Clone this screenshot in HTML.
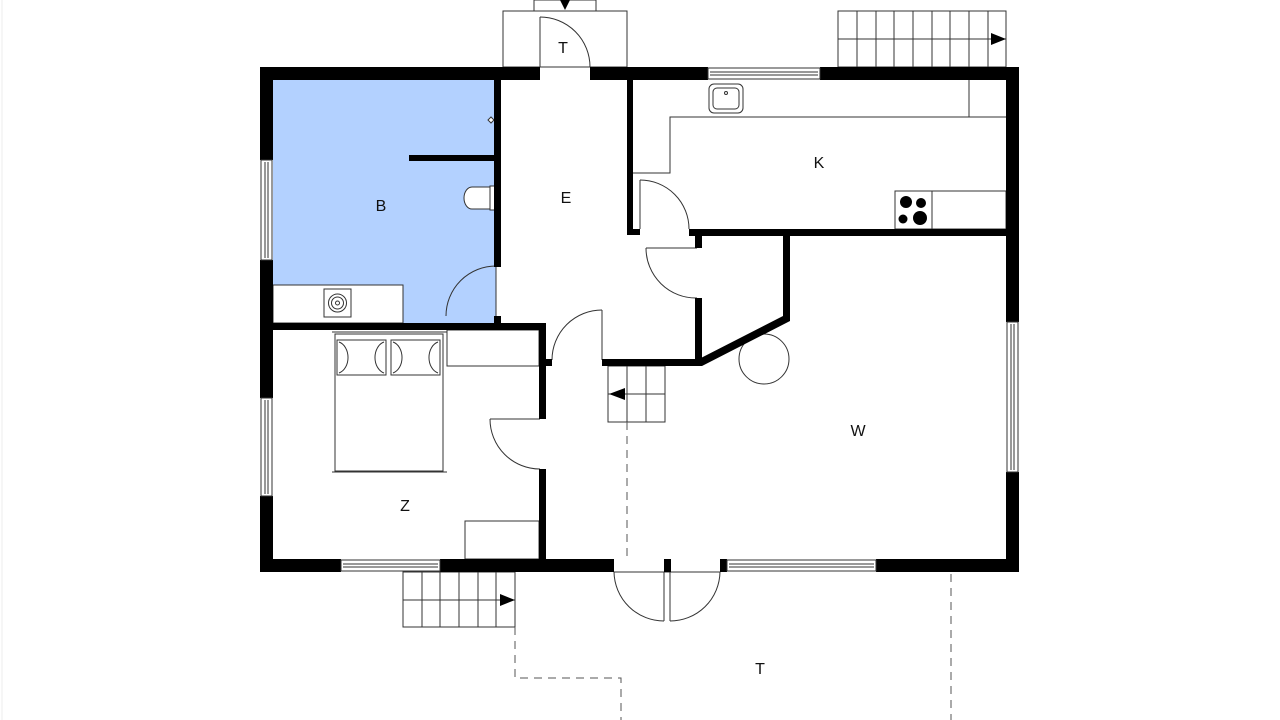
<!DOCTYPE html>
<html><head><meta charset="utf-8"><style>
html,body{margin:0;padding:0;background:#fff;}
svg{display:block;}
text{font-family:"Liberation Sans",sans-serif;font-size:16px;fill:#111;text-anchor:middle;}
</style></head><body>
<svg width="1280" height="720" viewBox="0 0 1280 720" xmlns="http://www.w3.org/2000/svg">
<rect width="1280" height="720" fill="#fff"/>
<line x1="2" y1="0" x2="2" y2="720" stroke="#eee" stroke-width="1"/>
<rect x="273" y="80" width="223" height="243" fill="#b3d1ff"/>
<g fill="none" stroke="#333" stroke-width="1">
<rect x="273" y="285" width="130" height="38" fill="#fff"/>
<rect x="324" y="289" width="27" height="28"/>
<circle cx="337.5" cy="303" r="9"/><circle cx="337.5" cy="303" r="6"/><circle cx="337.5" cy="303" r="2"/>
<path d="M490 187 L472 187 A8 11 0 0 0 472 209 L490 209 Z" fill="#fff"/>
<rect x="490" y="186" width="6" height="24" fill="#fff"/>
<path d="M491 117 l3 3 l-3 3 l-3 -3 z" fill="#fff"/>
<rect x="503" y="11" width="124" height="56"/>
<rect x="534" y="0" width="62" height="11"/>
<line x1="540" y1="17" x2="540" y2="67"/>
<path d="M540 17 A50 50 0 0 1 590 67"/>
<rect x="838" y="11" width="168" height="56"/>
<line x1="838" y1="39" x2="1006" y2="39"/>
<line x1="857" y1="11" x2="857" y2="67"/><line x1="876" y1="11" x2="876" y2="67"/><line x1="894" y1="11" x2="894" y2="67"/><line x1="913" y1="11" x2="913" y2="67"/><line x1="932" y1="11" x2="932" y2="67"/><line x1="950" y1="11" x2="950" y2="67"/><line x1="969" y1="11" x2="969" y2="67"/><line x1="988" y1="11" x2="988" y2="67"/>
<polyline points="633,173 670,173 670,117 1006,117"/>
<line x1="969" y1="80" x2="969" y2="117"/>
<rect x="709" y="84" width="34" height="29" rx="5"/>
<rect x="713" y="88" width="26" height="21" rx="4"/>
<circle cx="726" cy="93" r="1.5"/>
<rect x="895" y="191" width="111" height="38" fill="#fff"/>
<line x1="932" y1="191" x2="932" y2="229"/>
<line x1="640" y1="180" x2="640" y2="229"/><path d="M640 180 A49 49 0 0 1 689 229"/>
<line x1="646" y1="248" x2="697" y2="248"/><path d="M646 248 A50 50 0 0 0 697 298"/>
<line x1="496" y1="266" x2="496" y2="316"/><path d="M446 316 A50 50 0 0 1 496 266"/>
<line x1="602" y1="310" x2="602" y2="360"/><path d="M552 360 A50 50 0 0 1 602 310"/>
<line x1="490" y1="419" x2="540" y2="419"/><path d="M490 419 A50 50 0 0 0 540 469"/>
<line x1="614" y1="572" x2="720" y2="572"/>
<line x1="664" y1="572" x2="664" y2="621"/><path d="M614 572 A50 50 0 0 0 664 621"/>
<line x1="670" y1="572" x2="670" y2="621"/><path d="M720 572 A50 50 0 0 1 670 621"/>
<line x1="332" y1="332" x2="447" y2="332"/>
<rect x="335" y="334" width="108" height="137"/>
<line x1="332" y1="472" x2="447" y2="472"/>
<rect x="337" y="340" width="49" height="35"/><rect x="391" y="340" width="49" height="35"/>
<path d="M339 342 A12 16 0 0 1 339 373 M384 342 A12 16 0 0 0 384 373 M393 342 A12 16 0 0 1 393 373 M438 342 A12 16 0 0 0 438 373"/>
<rect x="447" y="330" width="92" height="36"/>
<rect x="465" y="521" width="74" height="38"/>
<rect x="608" y="366" width="57" height="56"/>
<line x1="608" y1="394" x2="665" y2="394"/>
<line x1="627" y1="366" x2="627" y2="422"/><line x1="646" y1="366" x2="646" y2="422"/>
<circle cx="764" cy="359" r="25"/>
<rect x="403" y="572" width="112" height="55"/>
<line x1="403" y1="600" x2="515" y2="600"/>
<line x1="422" y1="572" x2="422" y2="627"/><line x1="440" y1="572" x2="440" y2="627"/><line x1="459" y1="572" x2="459" y2="627"/><line x1="478" y1="572" x2="478" y2="627"/><line x1="496" y1="572" x2="496" y2="627"/>
</g>
<g fill="none" stroke="#555" stroke-width="1" stroke-dasharray="8,6">
<polyline points="515,627 515,678 621,678 621,720"/>
<line x1="627" y1="422" x2="627" y2="556"/>
<line x1="951" y1="574" x2="951" y2="720"/>
</g>
<g fill="#000">
<circle cx="906" cy="202" r="6"/><circle cx="921" cy="203" r="5"/><circle cx="903" cy="219" r="4.5"/><circle cx="920" cy="218" r="7"/>
<polygon points="560,0 570,0 565,10"/>
<polygon points="991,33 1006,39 991,45"/>
<polygon points="625,388 609,394 625,400"/>
<polygon points="500,594 515,600 500,606"/>
<rect x="260" y="67" width="280" height="13"/>
<rect x="590" y="67" width="118" height="13"/>
<rect x="820" y="67" width="199" height="13"/>
<rect x="260" y="67" width="13" height="93"/>
<rect x="260" y="260" width="13" height="138"/>
<rect x="260" y="496" width="13" height="76"/>
<rect x="1006" y="67" width="13" height="255"/>
<rect x="1006" y="472" width="13" height="100"/>
<rect x="260" y="559" width="81" height="13"/>
<rect x="440" y="559" width="174" height="13"/>
<rect x="664" y="559" width="7" height="13"/>
<rect x="720" y="559" width="7" height="13"/>
<rect x="876" y="559" width="143" height="13"/>
<rect x="494" y="80" width="7" height="187"/>
<rect x="409" y="155" width="87" height="6"/>
<rect x="494" y="316" width="7" height="7"/>
<rect x="260" y="323" width="286" height="7"/>
<rect x="539" y="323" width="7" height="96"/>
<rect x="539" y="359" width="13" height="7"/>
<rect x="539" y="469" width="7" height="90"/>
<rect x="602" y="359" width="98" height="7"/>
<polygon points="783,236 790,236 790,321 702,366 697,360 783,316"/>
<rect x="695" y="298" width="7" height="68"/>
<rect x="695" y="236" width="7" height="12"/>
<rect x="627" y="80" width="6" height="155"/>
<rect x="627" y="229" width="13" height="6"/>
<rect x="689" y="229" width="317" height="7"/>
</g>
<g fill="#fff" stroke="#333" stroke-width="1">
<rect x="708" y="68" width="112" height="11"/><line x1="710" y1="72" x2="818" y2="72"/><line x1="710" y1="75" x2="818" y2="75"/>
<rect x="261" y="160" width="11" height="100"/><line x1="265" y1="162" x2="265" y2="258"/><line x1="268" y1="162" x2="268" y2="258"/>
<rect x="261" y="398" width="11" height="98"/><line x1="265" y1="400" x2="265" y2="494"/><line x1="268" y1="400" x2="268" y2="494"/>
<rect x="1007" y="322" width="11" height="150"/><line x1="1011" y1="324" x2="1011" y2="470"/><line x1="1014" y1="324" x2="1014" y2="470"/>
<rect x="341" y="560" width="99" height="11"/><line x1="343" y1="564" x2="438" y2="564"/><line x1="343" y1="567" x2="438" y2="567"/>
<rect x="727" y="560" width="149" height="11"/><line x1="729" y1="564" x2="874" y2="564"/><line x1="729" y1="567" x2="874" y2="567"/>
</g>
<text x="563" y="53">T</text>
<text x="381" y="211">B</text>
<text x="566" y="203">E</text>
<text x="819" y="168">K</text>
<text x="858" y="436">W</text>
<text x="405" y="511">Z</text>
<text x="760" y="674">T</text>
</svg>
</body></html>
